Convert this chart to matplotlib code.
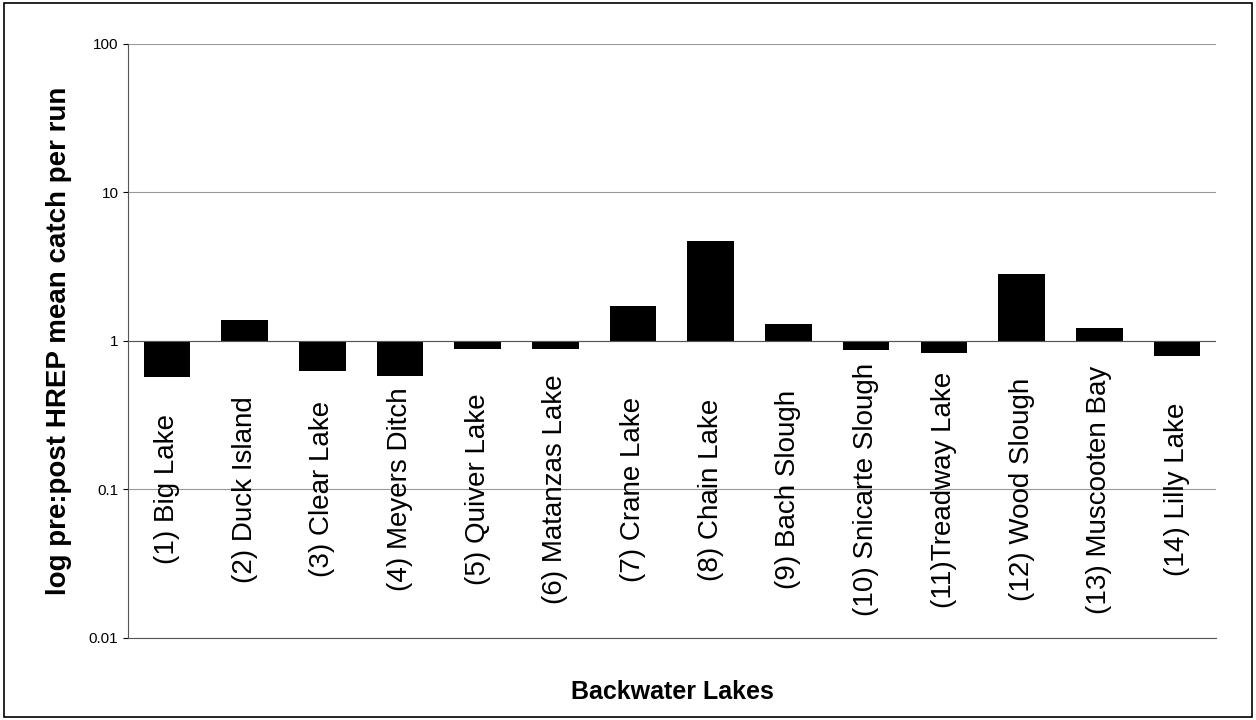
import matplotlib.pyplot as plt
from matplotlib.patches import Rectangle

lakes = ["(1) Big Lake", "(2) Duck Island", "(3) Clear Lake", "(4) Meyers Ditch",
         "(5) Quiver Lake", "(6) Matanzas Lake", "(7) Crane Lake", "(8) Chain Lake",
         "(9) Bach Slough", "(10) Snicarte Slough", "(11)Treadway Lake",
         "(12) Wood Slough", "(13) Muscooten Bay", "(14) Lilly Lake"]
ratio = [0.57, 1.39, 0.63, 0.58, 0.88, 0.88, 1.72, 4.74, 1.30, 0.87, 0.83, 2.84, 1.22, 0.79]

plt.rcParams["font.family"] = ["Liberation Sans", "DejaVu Sans"]

fig = plt.figure(figsize=(12.56, 7.2), dpi=100)
fig.patches.append(Rectangle((0.003, 0.004), 0.994, 0.992, transform=fig.transFigure,
                             fill=False, edgecolor="black", linewidth=1.2))
ax = fig.add_axes([0.102, 0.114, 0.866, 0.825])

x = list(range(len(lakes)))
heights = [v - 1 for v in ratio]
ax.bar(x, heights, bottom=1, width=0.6, color="black")
ax.set_yscale("log")
ax.set_ylim(0.01, 100)
ax.set_xlim(-0.5, len(lakes) - 0.5)
ax.set_yticks([0.01, 0.1, 1, 10, 100])
ax.set_yticklabels(["0.01", "0.1", "1", "10", "100"], fontsize=11)
ax.minorticks_off()
ax.yaxis.grid(True, color="#999999", linewidth=0.8)
ax.set_axisbelow(True)
ax.axhline(1, color="#555555", linewidth=0.8)
ax.set_xticks([])
for s in ["top", "right"]:
    ax.spines[s].set_visible(False)
ax.spines["left"].set_color("#555555")
ax.spines["bottom"].set_color("#555555")

for i, name in enumerate(lakes):
    ax.text(i, 0.25, name, transform=ax.get_xaxis_transform(), rotation=90,
            ha="center", va="center", fontsize=20)

ax.set_ylabel("log pre:post HREP mean catch per run", fontsize=20, fontweight="bold",
              labelpad=12)
ax.set_xlabel("Backwater Lakes", fontsize=18, fontweight="bold", labelpad=30)

fig.savefig("out.png", dpi=100)
